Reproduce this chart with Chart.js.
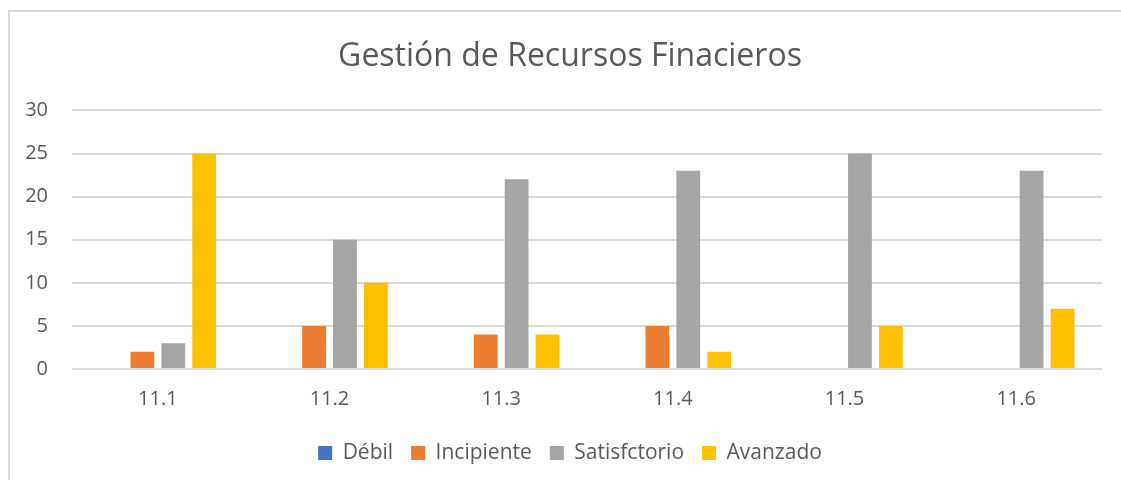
<!DOCTYPE html>
<html>
<head>
<meta charset="utf-8">
<script src="https://cdn.jsdelivr.net/npm/chart.js@4"></script>
<style>
  body { margin: 0; background: #fff; overflow: hidden; }
  #frame { position: absolute; left: 8px; top: 10px; width: 1140px; height: 500px; border: 2px solid #d9d9d9; }
  #myChart { position: absolute; left: 0; top: 0; }
</style>
</head>
<body>
<div id="frame"></div>
<canvas id="myChart" width="1121" height="480"></canvas>
<script>
  var categories = ['11.1', '11.2', '11.3', '11.4', '11.5', '11.6'];
  var debil = [0, 0, 0, 0, 0, 0];
  var incipiente = [2, 5, 4, 5, 0, 0];
  var satisfctorio = [3, 15, 22, 23, 25, 23];
  var avanzado = [25, 10, 4, 2, 5, 7];
  var yTicks = [0, 5, 10, 15, 20, 25, 30];

  var fontFam = "'Open Sans', 'Liberation Sans', sans-serif";
  Chart.defaults.font.family = fontFam;
  Chart.defaults.color = '#595959';

  // title and legend are centred on the frame, not on the plot box
  var shiftBoxes = {
    id: 'shiftBoxes',
    afterLayout: function (chart) {
      [chart.titleBlock, chart.legend].forEach(function (b) {
        if (b) { b.left += 19; b.right += 19; }
      });
    }
  };

  var ctx = document.getElementById('myChart').getContext('2d');
  var myChart = new Chart(ctx, {
    type: 'bar',
    data: {
      labels: categories,
      datasets: [
        { label: 'Débil', data: debil, backgroundColor: '#4472c4' },
        { label: 'Incipiente', data: incipiente, backgroundColor: '#ed7d31' },
        { label: 'Satisfctorio', data: satisfctorio, backgroundColor: '#a5a5a5' },
        { label: 'Avanzado', data: avanzado, backgroundColor: '#ffc000' }
      ]
    },
    plugins: [shiftBoxes],
    options: {
      responsive: false,
      animation: false,
      categoryPercentage: 0.72,
      barPercentage: 0.77,
      layout: { padding: { left: 0, right: 19, top: 0, bottom: 6.5 } },
      plugins: {
        title: {
          display: true,
          text: 'Gestión de Recursos Finacieros',
          color: '#595959',
          font: { size: 32, weight: 'normal' },
          padding: { top: 38, bottom: 34 }
        },
        legend: {
          position: 'bottom',
          labels: { boxWidth: 14, boxHeight: 14, padding: 18, font: { size: 21 }, color: '#595959' }
        },
        tooltip: { enabled: false }
      },
      scales: {
        x: {
          afterFit: function (s) { s.height += 3.5; },
          grid: { display: false },
          border: { display: false },
          ticks: { font: { size: 20 }, padding: 10, color: '#595959' }
        },
        y: {
          min: 0,
          max: 30,
          afterFit: function (s) { s.width = 72; },
          afterBuildTicks: function (s) { s.ticks = yTicks.map(function (v) { return { value: v }; }); },
          grid: { color: '#d9d9d9', lineWidth: 2, drawTicks: false },
          border: { display: false },
          ticks: { font: { size: 20 }, padding: 24, color: '#595959' }
        }
      }
    }
  });
</script>
</body>
</html>
